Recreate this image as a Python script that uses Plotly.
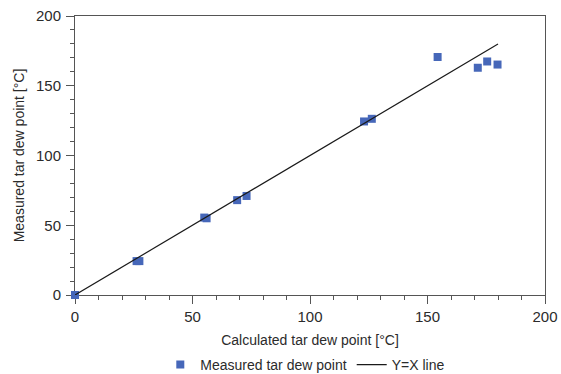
import plotly.graph_objects as go

# Data
calc_dew = [0, 26.2, 27.4, 55, 56, 69, 73, 123, 126.3, 154.3, 171.4, 175.4, 179.8]
meas_dew = [0, 24.3, 24.3, 55.5, 55, 68, 71, 124.4, 126.3, 170.6, 162.9, 167.4, 165.2]
yx_x = [0, 180]
yx_y = [0, 180]
tick_step = 50
minor_step = 10

FONT = "Liberation Sans, Arial, Helvetica, sans-serif"
TXT = "#2b2b2b"

fig = go.Figure()
fig.add_trace(go.Scatter(
    x=calc_dew, y=meas_dew, mode="markers", name="Measured tar dew point",
    marker=dict(symbol="square", size=8, color="#4667b9"),
    cliponaxis=False,
))
fig.add_trace(go.Scatter(
    x=yx_x, y=yx_y, mode="lines", name="Y=X line",
    line=dict(color="#1a1a1a", width=1.2),
))

axis_common = dict(
    tickmode="linear", tick0=0, dtick=tick_step,
    ticks="outside", ticklen=8, tickwidth=1, tickcolor="#555555",
    showline=True, linecolor="#555555", linewidth=1, mirror=True,
    showgrid=False, zeroline=False, automargin=False, layer="below traces",
    tickfont=dict(family=FONT, size=15, color=TXT),
)

fig.update_xaxes(range=[0, 200],
                 title=dict(text="Calculated tar dew point [°C]", font=dict(family=FONT, size=14, color=TXT), standoff=11),
                 minor=dict(dtick=minor_step, ticks="outside", ticklen=4, tickwidth=1,
                            tickcolor="#555555", showgrid=False),
                 **axis_common)
fig.update_yaxes(range=[0, 200],
                 title=dict(text="Measured tar dew point [°C]", font=dict(family=FONT, size=14, color=TXT), standoff=8),
                 ticklabelstandoff=2,
                 minor=dict(dtick=minor_step, ticks="outside", ticklen=4, tickwidth=1,
                            tickcolor="#555555", showgrid=False),
                 **axis_common)

fig.update_layout(
    template="simple_white",
    width=561, height=374,
    margin=dict(l=75, r=16, t=16, b=79, autoexpand=False),
    plot_bgcolor="white", paper_bgcolor="white",
    font=dict(family=FONT, size=14, color=TXT),
    showlegend=True,
    legend=dict(orientation="h", x=0.49, xanchor="center",
                yref="container", y=0.024, yanchor="middle",
                font=dict(family=FONT, size=14, color=TXT),
                itemwidth=30, tracegroupgap=0, bgcolor="rgba(0,0,0,0)"),
)

fig.write_html("out.html", config={"displayModeBar": False},
               post_script="document.body.style.margin='0';document.body.style.padding='0';")
